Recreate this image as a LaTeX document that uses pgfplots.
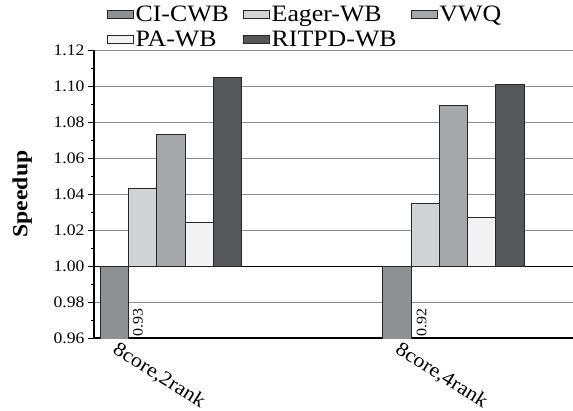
\documentclass[border=0pt]{standalone}
\usepackage{fontspec}
\setmainfont{Liberation Serif}[FakeStretch=1.1]
\usepackage{pgfplots}
\pgfplotsset{compat=1.18}
\definecolor{cci}{RGB}{143,144,148}
\definecolor{ceager}{RGB}{210,211,213}
\definecolor{cvwq}{RGB}{166,167,171}
\definecolor{cpa}{RGB}{241,242,241}
\definecolor{critpd}{RGB}{86,87,90}
\definecolor{cgrid}{RGB}{140,140,140}
\begin{document}
\begin{tikzpicture}
\begin{axis}[
  at={(94pt,-338pt)}, anchor=south west,
  width=479pt, height=288pt, scale only axis,
  ybar, bar width=0.1,
  xmin=-0.2726, xmax=1.423,
  ymin=0.96, ymax=1.12,
  y coord trafo/.code={\pgfmathparse{#1-1}},
  y coord inv trafo/.code={\pgfmathparse{#1+1}},
  ytick={0.96,0.98,1.00,1.02,1.04,1.06,1.08,1.10,1.12},
  minor y tick num=1,
  extra y ticks={1.00},
  extra y tick labels={},
  extra y tick style={grid style={black, line width=0.9pt}},
  ymajorgrids,
  grid style={cgrid, line width=0.9pt},
  axis x line*=bottom, axis y line*=left,
  axis line style={black, line width=1.2pt, -},
  tick align=outside,
  major tick length=6pt, minor tick length=3pt,
  tick style={black, line width=1pt},
  xtick={0,1},
  xticklabels={8core{,}2rank, 8core{,}4rank},
  major x tick style={draw=none},
  xticklabel style={xshift=-12pt, yshift=-32pt, rotate=-32, anchor=center, font=\fontsize{20}{24}\selectfont},
  yticklabel style={font=\fontsize{16}{19}\selectfont},
  /pgf/number format/assume math mode=true,
  yticklabel={\pgfmathprintnumber[fixed, fixed zerofill, precision=2]{\tick}},
  ylabel={\textbf{Speedup}},
  ylabel style={at={(axis description cs:-0.150,0.5)}, anchor=center, rotate=0, font=\fontsize{21.5}{25}\selectfont},
  legend columns=3,
  legend style={at={(0.02,1.17)}, anchor=north west, draw=none, fill=none,
    font=\fontsize{23.5}{27}\selectfont,
    row sep=4pt,
    /tikz/every even column/.append style={column sep=12pt},
    cells={anchor=west, text height=16pt, text depth=4pt, inner sep=1pt}},
  legend image code/.code={\draw[#1, draw=black!85, line width=0.8pt] (0pt,-4pt) rectangle (26pt,4pt);},
  every axis plot/.append style={draw=black!85, line width=0.8pt},
]
\addplot[fill=cci, bar shift=-0.2] coordinates {(0,0.93) (1,0.92)};
\addlegendentry{CI-CWB}
\addplot[fill=ceager, bar shift=-0.1] coordinates {(0,1.043) (1,1.035)};
\addlegendentry{Eager-WB}
\addplot[fill=cvwq, bar shift=0] coordinates {(0,1.073) (1,1.089)};
\addlegendentry{VWQ}
\addplot[fill=cpa, bar shift=0.1] coordinates {(0,1.024) (1,1.027)};
\addlegendentry{PA-WB}
\addplot[fill=critpd, bar shift=0.2] coordinates {(0,1.105) (1,1.101)};
\addlegendentry{RITPD-WB}
\node[rotate=90, anchor=west, inner sep=1pt, font=\fontsize{14.5}{17}\selectfont] at (rel axis cs:0.0919,0) {0.93};
\node[rotate=90, anchor=west, inner sep=1pt, font=\fontsize{14.5}{17}\selectfont] at (rel axis cs:0.684,0) {0.92};
\end{axis}
\pgfresetboundingbox
\path (0,0) rectangle (573pt,-410pt);
\end{tikzpicture}
\end{document}
